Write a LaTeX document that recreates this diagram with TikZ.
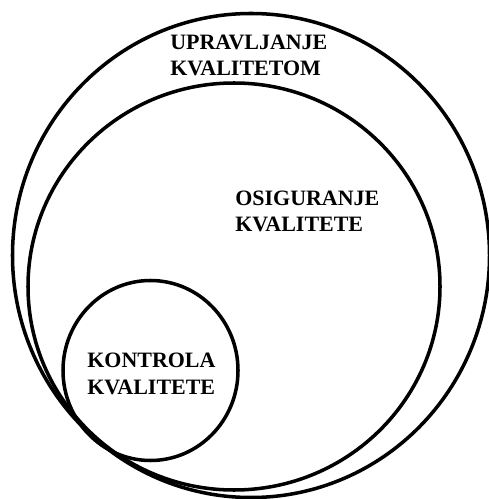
\documentclass[tikz,border=0pt]{standalone}
\usepackage{fontspec}
\setmainfont{Liberation Serif}
\usepackage{tikz}

\tikzset{ring/.style={line width=2pt, black},
         lbl/.style={anchor=base west, inner sep=0pt, font=\fontsize{12.5}{14.8}\selectfont\bfseries, align=left}}

\begin{document}
\begin{tikzpicture}[x=0.02cm,y=-0.02cm]
\useasboundingbox (0,0) rectangle (488,499);

\draw [ring] (251,255.5) ellipse (238.5 and 242);
\draw [ring] (234,286.5) ellipse (206 and 203.5);
\draw [ring] (150.5,370.5) ellipse (87.5 and 90);

% base = last line
\node [lbl] (upr) at (170,76) {UPRAVLJANJE\\KVALITETOM};
\node [lbl] (osi) at (235,232) {OSIGURANJE\\KVALITETE};
\node [lbl] (kon) at (87,394) {KONTROLA\\KVALITETE};

\end{tikzpicture}
\end{document}
